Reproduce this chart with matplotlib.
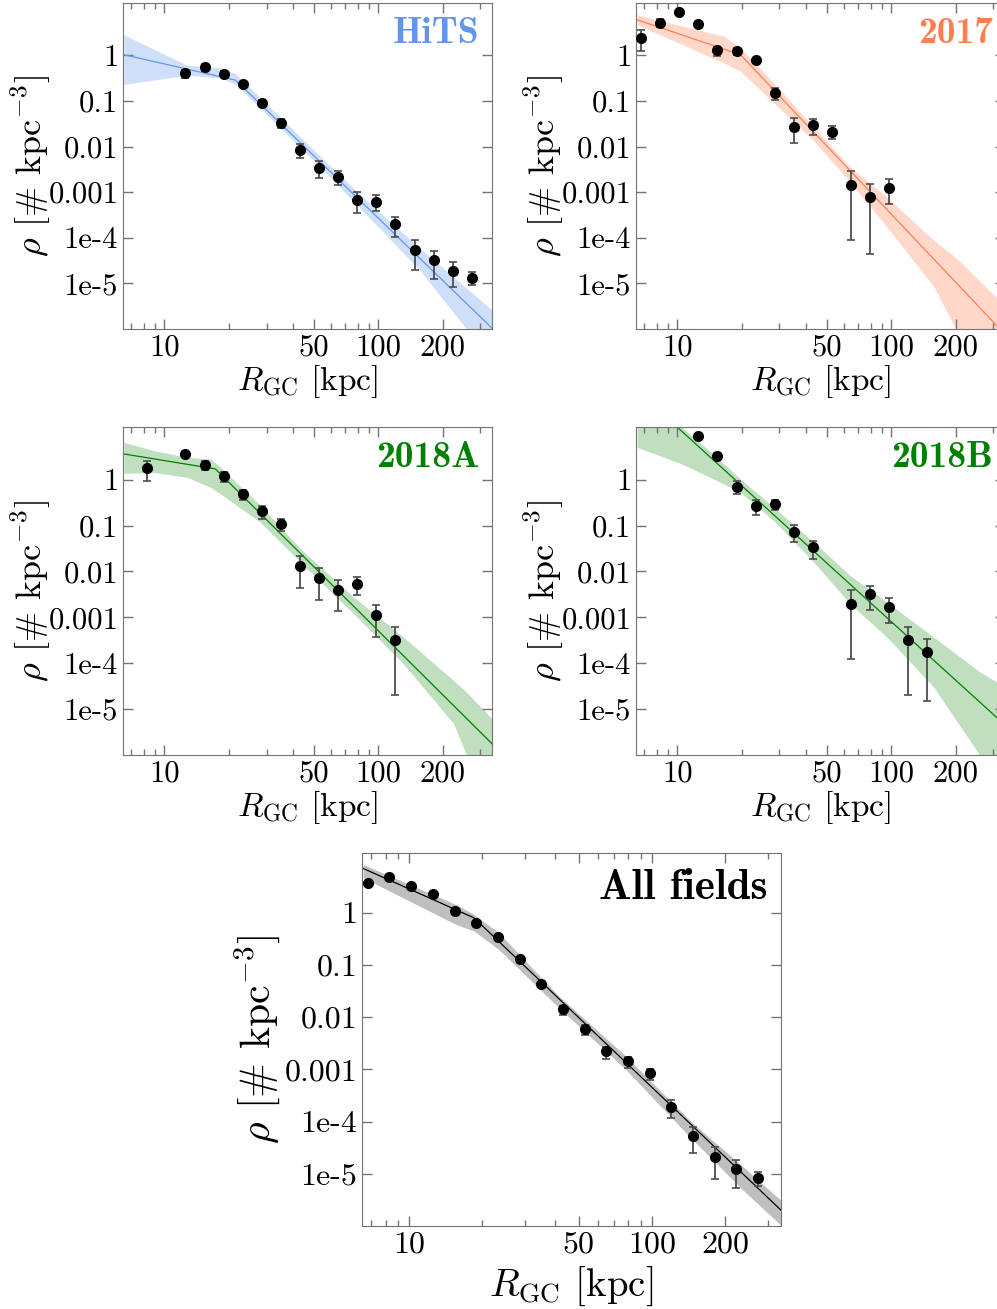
import matplotlib
matplotlib.use("Agg")
import matplotlib.pyplot as plt
import numpy as np
from matplotlib.ticker import LogLocator, NullFormatter, NullLocator

plt.rcParams["font.family"] = "cmr10"
plt.rcParams["mathtext.fontset"] = "cm"
plt.rcParams["axes.formatter.use_mathtext"] = True

# radial bin centres [kpc]
R_BINS = [6.76, 8.30, 10.20, 12.53, 15.39, 18.90, 23.21, 28.51, 35.01, 43.00,
          52.82, 64.87, 79.68, 97.86, 120.2, 147.6, 181.3, 222.7, 273.5]

# --- HiTS
hits_idx = list(range(3, 19))
hits_rho = [0.41, 0.557, 0.39, 0.229, 0.0914, 0.0329, 0.00835, 0.00344, 0.00219,
            6.8e-4, 6.2e-4, 2.0e-4, 5.5e-5, 3.2e-5, 1.89e-5, 1.33e-5]
hits_hi = [0.487, 0.647, 0.448, 0.262, 0.1045, 0.0396, 0.01128, 0.00472, 0.00296,
           9.97e-4, 8.57e-4, 2.84e-4, 9.1e-5, 5.24e-5, 2.92e-5, 1.74e-5]
hits_lo = [0.321, 0.463, 0.337, 0.201, 0.0786, 0.0252, 0.00559, 0.00208, 0.00142,
           3.53e-4, 3.91e-4, 1.04e-4, 1.92e-5, 1.26e-5, 8.45e-6, 9.04e-6]
hits_fit_R = [6.46, 21.5, 340]
hits_fit_rho = [1.03, 0.285, 1.04e-6]
hits_band_R = [6.46, 12.76, 18.28, 21.5, 28.1, 53.6, 91.8, 157, 264, 340]
hits_band_up = [2.82, 0.605, 0.53, 0.392, 0.117, 5.97e-3, 5.5e-4, 5.8e-5, 7.2e-6, 2.6e-6]
hits_band_lo = [0.229, 0.366, 0.321, 0.229, 0.0687, 3.5e-3, 2.6e-4, 1.9e-5, 8.8e-7, 3.0e-7]

# --- 2017
f17_idx = list(range(0, 14))
f17_rho = [2.39, 5.15, 9.1, 4.9, 1.29, 1.24, 0.778, 0.148, 0.0269, 0.0293, 0.0213,
           1.46e-3, 7.76e-4, 1.26e-3]
f17_hi = [3.57, 6.3, 9.1, 4.9, 1.52, 1.45, 0.875, 0.194, 0.0416, 0.0409, 0.0283,
          2.86e-3, 1.54e-3, 1.95e-3]
f17_lo = [1.22, 4.08, 9.1, 4.9, 0.98, 1.03, 0.67, 0.103, 0.01186, 0.018, 0.0145,
          9.1e-5, 4.5e-5, 5.5e-4]
f17_fit_R = [6.48, 19.7, 342]
f17_fit_rho = [6.0, 1.03, 7.4e-7]
f17_band_R = [6.48, 16.5, 19.7, 28.2, 43.4, 64.3, 95.4, 158, 203, 342]
f17_band_up = [7.7, 2.6, 1.45, 0.249, 0.026, 3.5e-3, 7.8e-4, 8.8e-5, 3.5e-5, 3.1e-6]
f17_band_lo = [4.66, 0.68, 0.448, 0.0914, 0.0133, 1.65e-3, 1.72e-4, 8.5e-6, 8.8e-7, 1.5e-7]

# --- 2018A
f18a_idx = [1] + list(range(3, 15))
f18a_rho = [1.76, 3.68, 2.09, 1.18, 0.487, 0.205, 0.110, 0.0134, 7.2e-3, 3.96e-3,
            5.35e-3, 1.13e-3, 3.13e-4]
f18a_hi = [2.59, 4.28, 2.59, 1.44, 0.605, 0.267, 0.139, 0.0221, 0.01194, 6.5e-3,
           7.5e-3, 1.9e-3, 6.1e-4]
f18a_lo = [0.92, 3.06, 1.62, 0.875, 0.361, 0.139, 0.075, 0.0043, 2.4e-3, 1.36e-3,
           3.08e-3, 3.7e-4, 1.99e-5]
f18a_fit_R = [6.46, 17.3, 340]
f18a_fit_rho = [3.62, 1.71, 1.76e-6]
f18a_band_R = [6.46, 8.92, 12.76, 16.4, 18.28, 28.1, 43.3, 76.7, 131, 225, 259, 340]
f18a_band_up = [6.5, 4.28, 3.06, 2.82, 1.86, 0.272, 0.031, 2.75e-3, 3.7e-4, 4.2e-5,
                2.3e-5, 6.2e-6]
f18a_band_lo = [1.37, 1.44, 1.12, 0.68, 0.487, 0.118, 0.0158, 1.19e-3, 9.7e-5, 4.8e-6,
                9.8e-7, 2.0e-7]

# --- 2018B
f18b_idx = list(range(3, 10)) + list(range(11, 16))
f18b_rho = [8.78, 3.22, 0.704, 0.267, 0.295, 0.0738, 0.0336, 1.96e-3, 3.24e-3,
            1.72e-3, 3.13e-4, 1.77e-4]
f18b_hi = [8.78, 3.74, 0.92, 0.367, 0.367, 0.101, 0.047, 3.9e-3, 4.9e-3, 2.6e-3,
           6.1e-4, 3.29e-4]
f18b_lo = [8.78, 2.68, 0.48, 0.167, 0.219, 0.044, 0.01875, 1.23e-4, 1.48e-3, 7.4e-4,
           1.99e-5, 1.49e-5]
f18b_fit_R = [9.8, 342]
f18b_fit_rho = [15.0, 4.4e-6]
f18b_band_R = [6.48, 10.3, 15.3, 19.7, 28.2, 43.4, 64.3, 95.4, 158, 260, 342]
f18b_band_up = [44, 15, 3.06, 1.03, 0.25, 0.0432, 8.1e-3, 2.13e-3, 3.7e-4, 6.4e-5, 3.0e-5]
f18b_band_lo = [5.06, 2.27, 0.95, 0.53, 0.128, 0.0159, 1.96e-3, 3.7e-4, 3.0e-5, 9.8e-7, 2.0e-7]

# --- all fields combined
all_idx = list(range(0, 19))
all_rho = [3.65, 4.75, 3.29, 2.24, 1.08, 0.625, 0.337, 0.1315, 0.043, 0.01406, 6.0e-3,
           2.24e-3, 1.42e-3, 8.6e-4, 1.92e-4, 5.27e-5, 2.06e-5, 1.21e-5, 8.4e-6]
all_hi = [3.9, 5.0, 3.5, 2.4, 1.15, 0.665, 0.36, 0.14, 0.046, 0.0163, 7.05e-3,
          2.71e-3, 1.74e-3, 1.04e-3, 2.65e-4, 7.9e-5, 3.24e-5, 1.83e-5, 1.08e-5]
all_lo = [3.4, 4.5, 3.1, 2.1, 1.01, 0.585, 0.315, 0.123, 0.040, 0.01096, 4.53e-3,
          1.6e-3, 1.06e-3, 6.4e-4, 1.18e-4, 2.52e-5, 8.0e-6, 5.4e-6, 5.8e-6]
all_fit_R = [6.47, 18.5, 343]
all_fit_rho = [7.07, 0.80, 1.93e-6]
all_band_R = [6.47, 15.6, 18.5, 23.4, 41.4, 78, 146.6, 235.6, 343]
all_band_up = [8.43, 1.44, 0.929, 0.414, 0.0253, 1.8e-3, 9.5e-5, 1.4e-5, 3.0e-6]
all_band_lo = [4.68, 0.598, 0.446, 0.1985, 0.01514, 9.97e-4, 4.55e-5, 5.0e-6, 9.9e-7]

YTICKS = [1, 0.1, 0.01, 0.001, 1e-4, 1e-5]
YTICKLABELS = ["1", "0.1", "0.01", "0.001", "1e-4", "1e-5"]
XTICKS = [10, 50, 100, 200]
XTICKLABELS = ["10", "50", "100", "200"]


def panel(ax, idx, rho, lo, hi, fitR, fitRho, bandR, bandLo, bandUp,
          color, alpha, name, tcolor, fs=22, xfs=24, yfs=26, tfs=27):
    R = np.array([R_BINS[i] for i in idx])
    rho, lo, hi = map(np.array, (rho, lo, hi))
    ax.fill_between(bandR, bandLo, bandUp, color=color, alpha=alpha, lw=0, zorder=1)
    ax.plot(fitR, fitRho, color=color, lw=0.9, zorder=2)
    ax.errorbar(R, rho, yerr=[rho - lo, hi - rho], fmt="o", color="k", ms=7,
                ecolor="0.3", elinewidth=1.3, capsize=3, capthick=1.2, zorder=3)
    ax.set_xscale("log"); ax.set_yscale("log")
    ax.set_xlim(6.4, 340); ax.set_ylim(1e-6, 14)
    ax.set_yticks(YTICKS); ax.set_yticklabels(YTICKLABELS)
    ax.yaxis.set_minor_locator(NullLocator())
    ax.set_xticks(XTICKS); ax.set_xticklabels(XTICKLABELS)
    ax.xaxis.set_minor_locator(LogLocator(base=10, subs=range(2, 10)))
    ax.xaxis.set_minor_formatter(NullFormatter())
    ax.tick_params(which="both", direction="in", top=True, right=True,
                   color="0.45", labelsize=fs, width=1)
    ax.tick_params(which="major", length=7)
    ax.tick_params(which="minor", length=4)
    for s in ax.spines.values():
        s.set_color("0.45")
    ax.set_xlabel(r"$R_{\rm GC}$ [kpc]", fontsize=xfs)
    ax.set_ylabel(r"$\rho$ [$\#$ kpc$^{-3}$]", fontsize=yfs)
    ax.xaxis.set_label_coords(0.5, -0.105)
    ax.yaxis.set_label_coords(-0.19, 0.5)
    ax.text(0.967, 0.877, name, transform=ax.transAxes, ha="right", va="baseline",
            color=tcolor, fontsize=tfs, family="cmb10")


fig = plt.figure(figsize=(9.97, 13.09), dpi=100)
ax1 = fig.add_axes([0.1234, 0.7487, 0.3701, 0.2490])
ax2 = fig.add_axes([0.6379, 0.7487, 0.3701, 0.2490])
ax3 = fig.add_axes([0.1234, 0.4232, 0.3701, 0.2506])
ax4 = fig.add_axes([0.6379, 0.4232, 0.3701, 0.2506])
ax5 = fig.add_axes([0.3631, 0.0634, 0.4203, 0.2850])

panel(ax1, hits_idx, hits_rho, hits_lo, hits_hi, hits_fit_R, hits_fit_rho,
      hits_band_R, hits_band_lo, hits_band_up, "cornflowerblue", 0.3, "HiTS", "cornflowerblue")
panel(ax2, f17_idx, f17_rho, f17_lo, f17_hi, f17_fit_R, f17_fit_rho,
      f17_band_R, f17_band_lo, f17_band_up, "coral", 0.3, "2017", "coral")
panel(ax3, f18a_idx, f18a_rho, f18a_lo, f18a_hi, f18a_fit_R, f18a_fit_rho,
      f18a_band_R, f18a_band_lo, f18a_band_up, "green", 0.25, "2018A", "green")
panel(ax4, f18b_idx, f18b_rho, f18b_lo, f18b_hi, f18b_fit_R, f18b_fit_rho,
      f18b_band_R, f18b_band_lo, f18b_band_up, "green", 0.25, "2018B", "green")
panel(ax5, all_idx, all_rho, all_lo, all_hi, all_fit_R, all_fit_rho,
      all_band_R, all_band_lo, all_band_up, "black", 0.25, "All fields", "black",
      fs=23, xfs=28, yfs=30, tfs=31)

fig.savefig("out.png", dpi=100)
